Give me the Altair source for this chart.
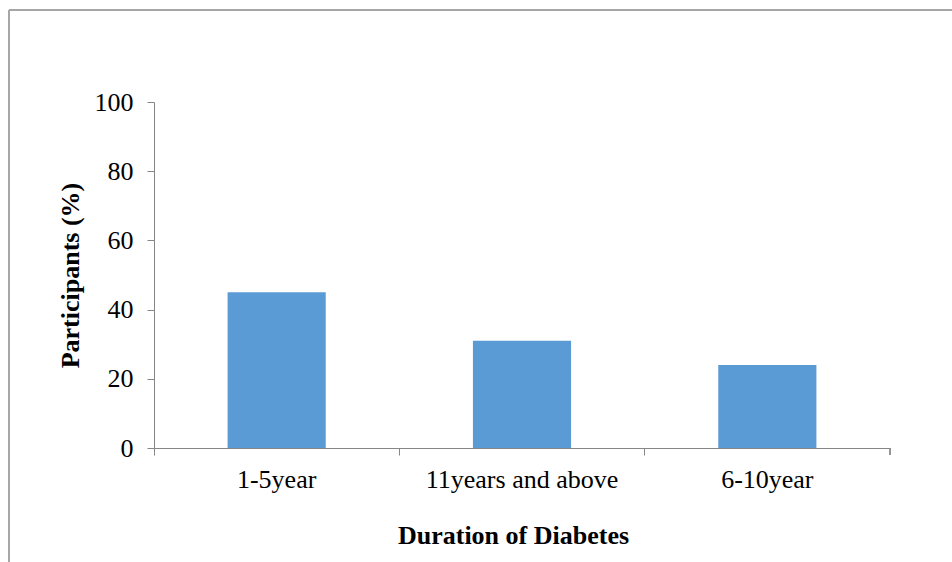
import altair as alt
import pandas as pd

# Share of participants by duration of diabetes
durations = ["1-5year", "11years and above", "6-10year"]
participants_pct = [45, 31, 24]

df = pd.DataFrame({"duration": durations, "pct": participants_pct})

W, H = 736, 346
FONT = "Liberation Serif"
AXIS_GREY = "#868686"
FRAME_GREY = "#a6a6a6"

x_enc = alt.X(
    "duration:N",
    sort=durations,
    scale=alt.Scale(paddingInner=0, paddingOuter=0),
    axis=alt.Axis(
        title="Duration of Diabetes",
        labelAngle=0,
        bandPosition=0,
        tickSize=7,
        labelPadding=11,
        labelLimit=0,
        titlePadding=30,
        titleX=359,
        titleAlign="center",
    ),
)

bars = alt.Chart(df).mark_bar(
    color="#5b9bd5", width=alt.RelativeBandSize(0.4)
).encode(
    x=x_enc,
    y=alt.Y(
        "pct:Q",
        scale=alt.Scale(domain=[0, 100]),
        axis=alt.Axis(
            title="Participants (%)",
            values=[0, 20, 40, 60, 80, 100],
            tickSize=7,
            labelPadding=14,
            titlePadding=11,
            grid=False,
        ),
    ),
)

# closing tick at the right end of the category axis
end_tick = alt.Chart(df).mark_rule(color=AXIS_GREY, strokeWidth=1).encode(
    x=alt.value(W), y=alt.value(H), y2=alt.value(H + 7)
)

# outer frame of the figure (top and left edges)
frame_top = alt.Chart(df).mark_rule(color=FRAME_GREY, strokeWidth=2).encode(
    x=alt.value(-145), x2=alt.value(W + 70), y=alt.value(-92)
)
frame_left = alt.Chart(df).mark_rule(color=FRAME_GREY, strokeWidth=2).encode(
    x=alt.value(-145), y=alt.value(-92), y2=alt.value(H + 130)
)

chart = (
    alt.layer(bars, end_tick, frame_top, frame_left)
    .properties(
        width=W,
        height=H,
        background="white",
        autosize=alt.AutoSizeParams(type="none"),
        padding={"left": 154, "top": 102, "right": 62, "bottom": 114},
    )
    .configure_view(stroke=None)
    .configure_axis(
        domainColor=AXIS_GREY,
        tickColor=AXIS_GREY,
        labelFont=FONT,
        titleFont=FONT,
        labelFontSize=26,
        titleFontSize=26,
        labelColor="#000000",
        titleColor="#000000",
        titleFontWeight="bold",
    )
)

chart.save("out.html", embed_options={"renderer": "svg", "actions": False})
